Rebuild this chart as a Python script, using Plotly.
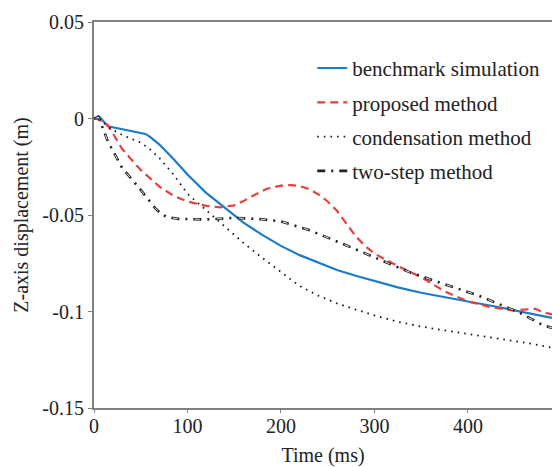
import plotly.graph_objects as go

# Time axis (ms) and Z-axis displacement (m) for each solution method
t_benchmark = [0, 5, 15, 30, 50, 55, 60, 70, 85, 100, 120, 140, 160, 180, 200, 220, 240,
               260, 280, 300, 325, 350, 375, 400, 425, 450, 475, 490]
z_benchmark = [0, 0.0012, -0.0040, -0.0055, -0.0075, -0.0080, -0.0095, -0.0135, -0.0210,
               -0.0290, -0.0385, -0.0465, -0.0540, -0.0603, -0.0660, -0.0708, -0.0748,
               -0.0785, -0.0815, -0.0843, -0.0875, -0.0903, -0.0927, -0.0948, -0.0970,
               -0.0995, -0.1018, -0.1033]

t_proposed = [0, 5, 15, 30, 50, 70, 85, 100, 120, 135, 150, 160, 170, 185, 200, 210, 220,
              230, 240, 250, 260, 270, 280, 290, 300, 325, 350, 375, 400, 425, 450, 460,
              472, 480, 490]
z_proposed = [0, -0.0005, -0.0035, -0.0157, -0.0267, -0.0353, -0.0400, -0.0430, -0.0453,
              -0.0460, -0.0450, -0.0428, -0.0400, -0.0364, -0.0348, -0.0345, -0.0350,
              -0.0365, -0.0393, -0.0430, -0.0478, -0.0545, -0.0610, -0.0660, -0.0700,
              -0.0765, -0.0822, -0.0895, -0.0948, -0.0978, -0.0995, -0.0990, -0.0986,
              -0.1003, -0.1015]

t_condensation = [0, 5, 15, 30, 50, 60, 70, 85, 100, 120, 140, 160, 180, 200, 220, 240,
                  260, 280, 300, 325, 350, 375, 400, 425, 450, 475, 490]
z_condensation = [0, 0.0008, -0.0045, -0.0085, -0.0125, -0.0160, -0.0205, -0.0290, -0.0390,
                  -0.0475, -0.0555, -0.0645, -0.0722, -0.0795, -0.0868, -0.0918, -0.0958,
                  -0.0990, -0.1020, -0.1053, -0.1078, -0.1098, -0.1116, -0.1133, -0.1153,
                  -0.1173, -0.1188]

t_twostep = [0, 5, 15, 30, 50, 65, 72, 78, 90, 120, 150, 175, 200, 230, 255, 280, 310, 335,
             360, 390, 410, 430, 455, 480, 490]
z_twostep = [0, 0.0005, -0.0120, -0.0255, -0.0370, -0.0462, -0.0495, -0.0511, -0.0520,
             -0.0523, -0.0515, -0.0520, -0.0533, -0.0578, -0.0627, -0.0678, -0.0736,
             -0.0791, -0.0834, -0.0885, -0.0915, -0.0955, -0.1005, -0.1070, -0.1085]

x_tickvals = [0, 100, 200, 300, 400]
x_ticktext = ["0", "100", "200", "300", "400"]
y_tickvals = [0.05, 0, -0.05, -0.1, -0.15]
y_ticktext = ["0.05", "0", "-0.05", "-0.1", "-0.15"]

FONT = "Liberation Serif"
AXIS_GRAY = "#808080"
TEXT = "#222222"

fig = go.Figure()

fig.add_trace(go.Scatter(
    x=t_benchmark, y=z_benchmark, mode="lines", name="benchmark simulation",
    legendgroup="a", line=dict(color="#1b7cc9", width=2.2)))

fig.add_trace(go.Scatter(
    x=t_proposed, y=z_proposed, mode="lines", name="proposed method",
    legendgroup="b", line=dict(color="#e5413d", width=2.2, dash="8px,5px")))

fig.add_trace(go.Scatter(
    x=t_condensation, y=z_condensation, mode="lines", name="condensation method",
    legendgroup="c", line=dict(color="#1a1a1a", width=1.8, dash="1.6px,5px")))

fig.add_trace(go.Scatter(
    x=t_twostep, y=z_twostep, mode="lines", name="two-step method",
    legendgroup="d", line=dict(color="#222222", width=2.6, dash="8px,6px,2px,6px")))

# white core inside each dash of the two-step curve (hollow dash look)
fig.add_trace(go.Scatter(
    x=t_twostep, y=z_twostep, mode="lines", showlegend=False, hoverinfo="skip",
    legendgroup="d", line=dict(color="#ffffff", width=0.9, dash="0px,1.5px,5px,15.5px")))

fig.update_layout(
    width=552, height=467,
    margin=dict(l=94, r=0, t=22, b=59),
    paper_bgcolor="white", plot_bgcolor="white",
    font=dict(family=FONT, size=20, color=TEXT),
    showlegend=True,
    legend=dict(x=0.4765, y=0.933, xanchor="left", yanchor="top",
                bgcolor="rgba(0,0,0,0)", borderwidth=0,
                font=dict(family=FONT, size=21, color=TEXT),
                tracegroupgap=4),
    xaxis=dict(range=[0, 490], tickvals=x_tickvals, ticktext=x_ticktext,
               showline=True, linecolor=AXIS_GRAY, linewidth=2, mirror=True,
               ticks="outside", ticklen=3, tickcolor=AXIS_GRAY, tickwidth=1,
               ticklabelstandoff=-4,
               showgrid=False, zeroline=False,
               tickfont=dict(family=FONT, size=20, color=TEXT),
               title=dict(text="Time (ms)", font=dict(family=FONT, size=20, color=TEXT),
                          standoff=14)),
    yaxis=dict(range=[-0.15, 0.05], tickvals=y_tickvals, ticktext=y_ticktext,
               showline=True, linecolor=AXIS_GRAY, linewidth=2,
               ticks="outside", ticklen=4, tickcolor=AXIS_GRAY, tickwidth=1,
               showgrid=False, zeroline=False,
               tickfont=dict(family=FONT, size=20, color=TEXT),
               title=dict(text="Z-axis displacement (m)",
                          font=dict(family=FONT, size=20, color=TEXT), standoff=8)),
)

fig.write_html("out.html")
